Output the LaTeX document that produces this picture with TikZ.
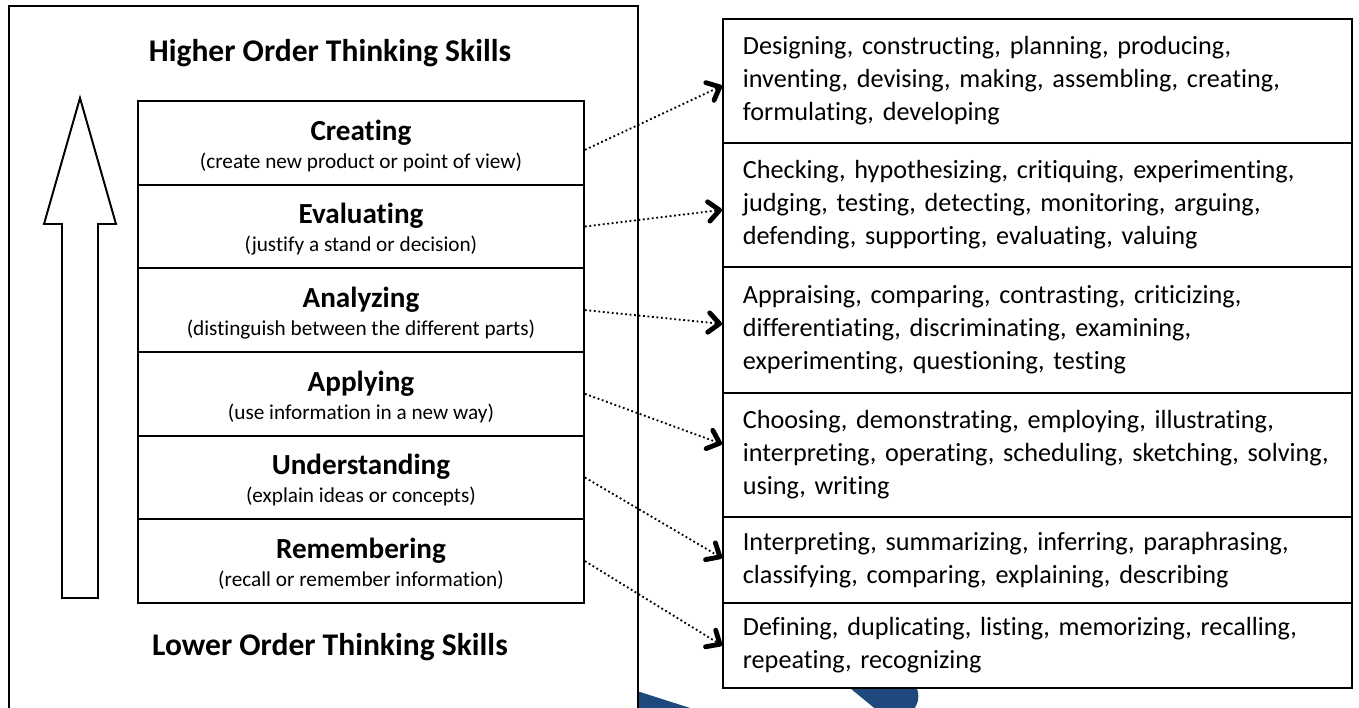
\documentclass[tikz,border=0pt]{standalone}
\usepackage{fontspec}
\setmainfont{Carlito}[Ligatures=NoCommon]
\usetikzlibrary{arrows.meta}
\definecolor{bandblue}{RGB}{31,73,125}
\newcommand\levelname[1]{{\fontsize{12}{14}\selectfont\bfseries\rule{0pt}{10.8pt}#1}}

\begin{document}
\begin{tikzpicture}[x=0.412pt,y=-0.412pt,
  level/.style={draw, line width=0.8pt, fill=white, anchor=north west, inner sep=0pt,
    minimum width=183.75pt, minimum height=34.47pt, align=center, font=\fontsize{8.75}{11}\selectfont},
  verbs/.style={draw, line width=0.8pt, fill=white, anchor=north west, inner xsep=8.2pt, inner ysep=0pt,
    minimum width=259.15pt, text width=242.75pt, align=left, font=\fontsize{10.8}{13.6}\selectfont},
  skills/.style={font=\fontsize{13}{16}\selectfont\bfseries},
  link/.style={line width=0.75pt, dash pattern=on 0.75pt off 1.1pt,
    -{Straight Barb[length=4.5pt,width=8pt,line width=2pt,round]}}]

\useasboundingbox (0,0) rectangle (1359,707);
\clip (0,0) rectangle (1359,707);

% blue band behind the boxes
\fill[bandblue] (560,666.5) -- (720,717.5) -- (560,717.5) -- cycle;
\fill[bandblue] (828,670) -- (908,670) [rounded corners=4pt] -- (921,697) -- (905,725) [sharp corners] -- (895,725) -- cycle;

% left frame
\draw[line width=0.7pt, fill=white] (9,6) rectangle (638,730);
\node[skills] (higher) at (330,53) {Higher Order Thinking Skills};
\node[skills] (lower) at (330,647) {Lower Order Thinking Skills};

% upward arrow
\draw[line width=0.8pt, fill=white] (62,598) -- (62,224) -- (44,224) -- (80,98) -- (116,224) -- (98,224) -- (98,598) -- cycle;

% levels
\node[level] (create) at (137,100) {\levelname{Creating}\\[0.5pt](create new product or point of view)};
\node[level] (evaluate) at (137,183.7) {\levelname{Evaluating}\\[0.5pt](justify a stand or decision)};
\node[level] (analyze) at (137,267.3) {\levelname{Analyzing}\\[0.5pt](distinguish between the different parts)};
\node[level] (apply) at (137,351) {\levelname{Applying}\\[0.5pt](use information in a new way)};
\node[level] (understand) at (137,434.7) {\levelname{Understanding}\\[0.5pt](explain ideas or concepts)};
\node[level] (remember) at (137,518.3) {\levelname{Remembering}\\[0.5pt](recall or remember information)};

% verbs
\node[verbs, minimum height=51.09pt] (createverbs) at (722,18) {\mbox{Designing, constructing, planning, producing,}\\\mbox{inventing, devising, making, assembling, creating,}\\formulating, developing};
\node[verbs, minimum height=51.09pt] (evaluateverbs) at (722,142) {\mbox{Checking, hypothesizing, critiquing, experimenting,}\\\mbox{judging, testing, detecting, monitoring, arguing,}\\\mbox{defending, supporting, evaluating, valuing}};
\node[verbs, minimum height=51.9pt] (analyzeverbs) at (722,266) {\mbox{Appraising, comparing, contrasting, criticizing,}\\\mbox{differentiating, discriminating, examining,}\\experimenting, questioning, testing};
\node[verbs, minimum height=51.09pt] (applyverbs) at (722,392) {\mbox{Choosing, demonstrating, employing, illustrating,}\\\mbox{interpreting, operating, scheduling, sketching, solving,}\\using, writing};
\node[verbs, minimum height=35.43pt] (understandverbs) at (722,516) {\mbox{Interpreting, summarizing, inferring, paraphrasing,}\\\mbox{classifying, comparing, explaining, describing}};
\node[verbs, minimum height=35.02pt] (rememberverbs) at (722,602) {\mbox{Defining, duplicating, listing, memorizing, recalling,}\\repeating, recognizing};

% links
\draw[link] ([yshift=-2.9pt]create.east) -- ([yshift=-2pt]createverbs.west);
\draw[link] (evaluate.east) -- ([yshift=-2pt]evaluateverbs.west);
\draw[link] (analyze.east) -- ([yshift=2.5pt]analyzeverbs.west);
\draw[link] (apply.east) -- ([yshift=4.5pt]applyverbs.west);
\draw[link] (understand.east) -- ([yshift=0.8pt]understandverbs.west);
\draw[link] (remember.east) -- (rememberverbs.west);

\end{tikzpicture}
\end{document}
